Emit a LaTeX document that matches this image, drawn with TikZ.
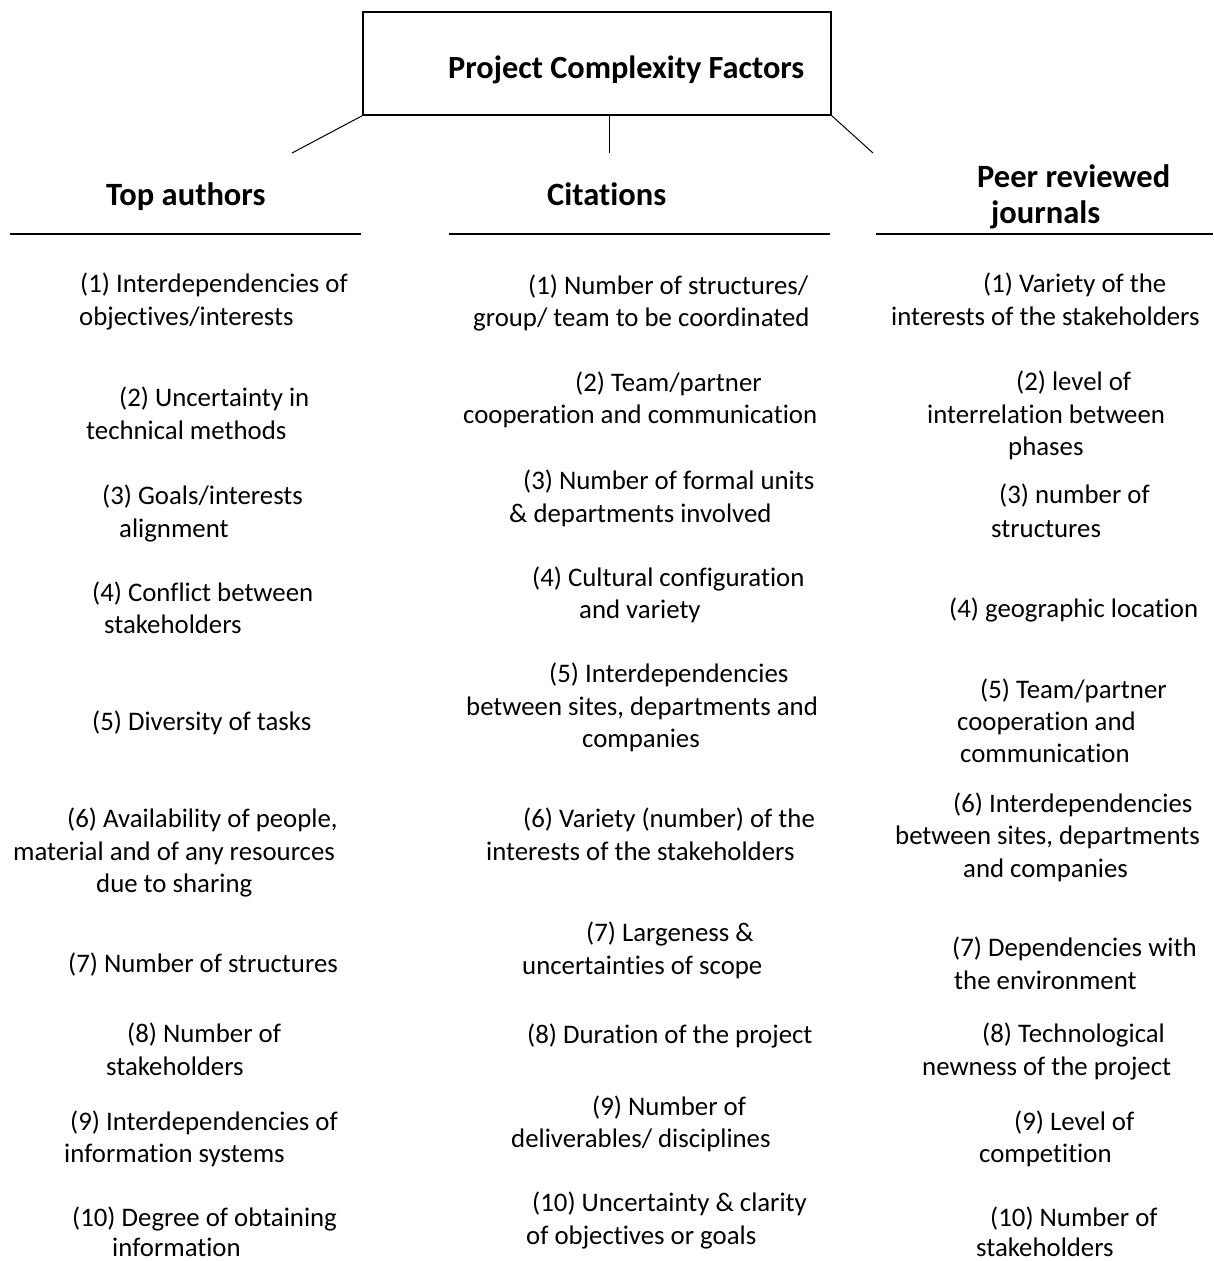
\documentclass[tikz,border=0pt]{standalone}
\usepackage{fontspec}
\setmainfont[Ligatures=NoCommon]{Carlito}
\begin{document}
\begin{tikzpicture}[x=1pt,y=1pt,
  itemtxt/.style={anchor=base west,inner sep=0pt,font=\fontsize{26.8}{32}\selectfont},
  headtxt/.style={anchor=base west,inner sep=0pt,font=\fontsize{32.5}{36}\selectfont\bfseries},
  rule/.style={line width=1.3pt},
  link/.style={line width=1pt}]
\useasboundingbox (0,0) rectangle (1213,-1261);
% item line: name, left x, visual centre y (from top), text
\newcommand\itm[4]{\node[itemtxt] (#1) at (#2,-#3-9) {#4};}

% title box and its three links
\node[draw,line width=1.4pt,minimum width=468pt,minimum height=103pt,inner sep=0pt] (box) at (597,-63.5) {};
\node[headtxt,font=\fontsize{32.3}{36}\selectfont\bfseries] (title) at (448,-78) {Project Complexity Factors};
\coordinate (endL) at (292,-153);
\coordinate (endC) at (609,-153);
\coordinate (endR) at (873,-153);
\draw[link] (box.south west) -- (endL);
\draw[link] (box.south west -| endC) -- (endC);
\draw[link] (box.south east) -- (endR);

% column headings
\node[headtxt] (hA) at (106,-205) {Top authors};
\node[headtxt] (hB) at (547,-205) {Citations};
\node[headtxt] (hC1) at (977,-187) {Peer reviewed};
\node[headtxt] (hC2) at (991,-223) {journals};

% heading rules
\coordinate (rA1) at (10,-234);  \coordinate (rA2) at (361,-234);
\coordinate (rB1) at (449,-234); \coordinate (rB2) at (830,-234);
\coordinate (rC1) at (876,-234); \coordinate (rC2) at (1213,-234);
\draw[rule] (rA1) -- (rA2);
\draw[rule] (rB1) -- (rB2);
\draw[rule] (rC1) -- (rC2);

% Top authors
\itm{a1a}{80}{283}{(1) Interdependencies of}
\itm{a1b}{79}{316}{objectives/interests}
\itm{a2a}{119}{397}{(2) Uncertainty in}
\itm{a2b}{86}{430}{technical methods}
\itm{a3a}{102}{495}{(3) Goals/interests}
\itm{a3b}{119}{528}{alignment}
\itm{a4a}{92}{592}{(4) Conflict between}
\itm{a4b}{104}{624}{stakeholders}
\itm{a5a}{92}{721}{(5) Diversity of tasks}
\itm{a6a}{67}{818}{(6) Availability of people,}
\itm{a6b}{13}{851}{material and of any resources}
\itm{a6c}{96}{883}{due to sharing}
\itm{a7a}{68}{963}{(7) Number of structures}
\itm{a8a}{127}{1033}{(8) Number of}
\itm{a8b}{106}{1066}{stakeholders}
\itm{a9a}{70}{1121}{(9) Interdependencies of}
\itm{a9b}{64}{1153}{information systems}
\itm{a10a}{72}{1217}{(10) Degree of obtaining}
\itm{a10b}{112}{1247}{information}

% Citations
\itm{b1a}{528}{285}{(1) Number of structures/}
\itm{b1b}{473}{317}{group/ team to be coordinated}
\itm{b2a}{575}{382}{(2) Team/partner}
\itm{b2b}{463}{414}{cooperation and communication}
\itm{b3a}{523}{480}{(3) Number of formal units}
\itm{b3b}{509}{513}{\& departments involved}
\itm{b4a}{532}{577}{(4) Cultural configuration}
\itm{b4b}{579}{609}{and variety}
\itm{b5a}{549}{673}{(5) Interdependencies}
\itm{b5b}{466}{706}{between sites, departments and}
\itm{b5c}{582}{738}{companies}
\itm{b6a}{523}{818}{(6) Variety (number) of the}
\itm{b6b}{486}{851}{interests of the stakeholders}
\itm{b7a}{586}{932}{(7) Largeness \&}
\itm{b7b}{522}{965}{uncertainties of scope}
\itm{b8a}{527}{1034}{(8) Duration of the project}
\itm{b9a}{592}{1106}{(9) Number of}
\itm{b9b}{511}{1138}{deliverables/ disciplines}
\itm{b10a}{532}{1202}{(10) Uncertainty \& clarity}
\itm{b10b}{526}{1235}{of objectives or goals}

% Peer reviewed journals
\itm{c1a}{983}{283}{(1) Variety of the}
\itm{c1b}{891}{316}{interests of the stakeholders}
\itm{c2a}{1016}{381}{(2) level of}
\itm{c2b}{927}{414}{interrelation between}
\itm{c2c}{1008}{446}{phases}
\itm{c3a}{999}{494}{(3) number of}
\itm{c3b}{991}{528}{structures}
\itm{c4a}{949}{608}{(4) geographic location}
\itm{c5a}{980}{689}{(5) Team/partner}
\itm{c5b}{957}{721}{cooperation and}
\itm{c5c}{960}{753}{communication}
\itm{c6a}{953}{803}{(6) Interdependencies}
\itm{c6b}{895}{835}{between sites, departments}
\itm{c6c}{963}{868}{and companies}
\itm{c7a}{952}{947}{(7) Dependencies with}
\itm{c7b}{954}{980}{the environment}
\itm{c8a}{982}{1033}{(8) Technological}
\itm{c8b}{922}{1066}{newness of the project}
\itm{c9a}{1014}{1121}{(9) Level of}
\itm{c9b}{979}{1153}{competition}
\itm{c10a}{990}{1217}{(10) Number of}
\itm{c10b}{976}{1247}{stakeholders}
\end{tikzpicture}
\end{document}
